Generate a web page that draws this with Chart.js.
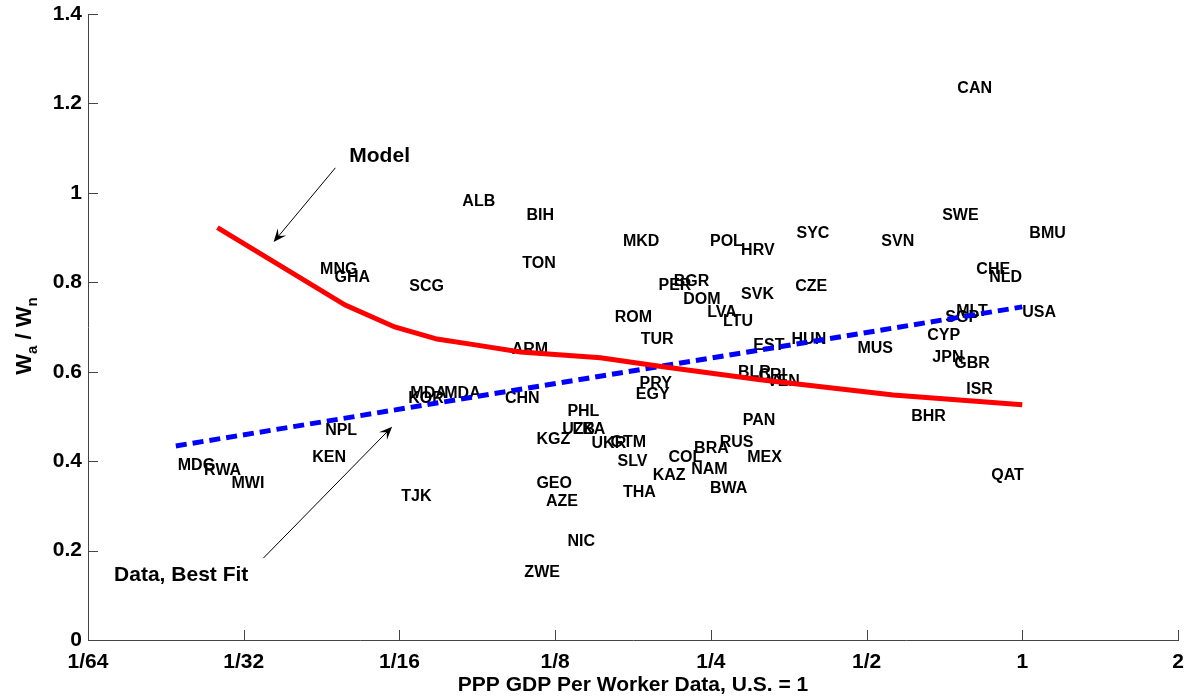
<!DOCTYPE html>
<html>
<head>
<meta charset="utf-8">
<script src="https://cdn.jsdelivr.net/npm/chart.js@4/dist/chart.umd.min.js"></script>
<style>
html, body { margin: 0; padding: 0; background: #fff; }
#wrap { width: 1195px; height: 698px; }
</style>
</head>
<body>
<div id="wrap"><canvas id="chart" width="1195" height="698"></canvas></div>
<script>
const FONT = "'Liberation Sans', Arial, Helvetica, sans-serif";

const xTickValues = [1 / 64, 1 / 32, 1 / 16, 1 / 8, 1 / 4, 1 / 2, 1, 2];
const xTickLabels = ["1/64", "1/32", "1/16", "1/8", "1/4", "1/2", "1", "2"];
const yTickValues = [0, 0.2, 0.4, 0.6, 0.8, 1, 1.2, 1.4];
const yTickLabels = ["0", "0.2", "0.4", "0.6", "0.8", "1", "1.2", "1.4"];

// model curve
const modelX = [0.0278, 0.0491, 0.0612, 0.0739, 0.0876, 0.1071, 0.1529, 0.2021, 0.3116, 0.563, 1.0];
const modelY = [0.922, 0.749, 0.700, 0.673, 0.660, 0.644, 0.631, 0.611, 0.582, 0.548, 0.526];

// best fit through the data
const fitX = [0.0231, 1.0];
const fitY = [0.434, 0.745];

const countryCodes = [
	"CAN", "SWE", "SYC", "SVN", "BMU", "CHE", "NLD", "CZE", "MLT", "SGP", "USA", "CYP", "HUN", "MUS",
	"JPN", "GBR", "ISR", "BHR", "EST", "QAT", "BIH", "MKD", "POL", "HRV", "TON", "BGR", "PER", "DOM",
	"SVK", "LVA", "LTU", "ROM", "TUR", "ARM", "BLR", "CRI", "VEN", "PRY", "EGY", "CHN", "PHL", "PAN",
	"UZB", "LKA", "KGZ", "UKR", "GTM", "SLV", "COL", "BRA", "RUS", "MEX", "KAZ", "NAM", "GEO", "THA",
	"BWA", "AZE", "NIC", "ZWE", "MDG", "RWA", "MWI", "KEN", "NPL", "TJK", "MDA", "MDA", "KOR", "ALB",
	"MNG", "GHA", "SCG",
];
const countryX = [
	0.749, 0.700, 0.366, 0.534, 1.032, 0.815, 0.863, 0.364, 0.745, 0.710, 1.0, 0.655, 0.358, 0.480,
	0.670, 0.739, 0.779, 0.610, 0.302, 0.871, 0.110, 0.169, 0.249, 0.286, 0.108, 0.212, 0.198, 0.221,
	0.286, 0.246, 0.264, 0.163, 0.183, 0.103, 0.282, 0.309, 0.321, 0.182, 0.179, 0.100, 0.132, 0.288,
	0.129, 0.135, 0.115, 0.147, 0.160, 0.165, 0.207, 0.232, 0.260, 0.294, 0.193, 0.229, 0.115, 0.169,
	0.249, 0.120, 0.132, 0.109, 0.0233, 0.0262, 0.0296, 0.0424, 0.0449, 0.0630, 0.0656, 0.0763, 0.0650, 0.0827,
	0.0439, 0.0468, 0.0653,
];
const countryY = [
	1.233, 0.950, 0.908, 0.890, 0.908, 0.829, 0.811, 0.790, 0.734, 0.720, 0.732, 0.680, 0.671, 0.651,
	0.631, 0.619, 0.559, 0.499, 0.659, 0.367, 0.950, 0.890, 0.890, 0.870, 0.841, 0.801, 0.792, 0.761,
	0.772, 0.732, 0.712, 0.720, 0.671, 0.650, 0.597, 0.591, 0.579, 0.573, 0.549, 0.539, 0.510, 0.490,
	0.470, 0.470, 0.449, 0.439, 0.441, 0.400, 0.407, 0.427, 0.441, 0.407, 0.368, 0.380, 0.349, 0.329,
	0.338, 0.309, 0.219, 0.150, 0.389, 0.378, 0.349, 0.407, 0.468, 0.320, 0.550, 0.550, 0.541, 0.981,
	0.829, 0.810, 0.790,
];

const noteTexts = ["Model", "Data, Best Fit"];
const noteX = [0.050, 0.01755];
const noteY = [1.083, 0.145];
const arrowFromX = [0.0470, 0.0341];
const arrowFromY = [1.056, 0.183];
const arrowToX = [0.0357, 0.0605];
const arrowToY = [0.890, 0.477];

const countryLabels = {
	id: "countryLabels",
	beforeDatasetsDraw(chart) {
		const { ctx, scales } = chart;
		ctx.save();
		ctx.font = "bold 16px " + FONT;
		ctx.fillStyle = "#000";
		ctx.textAlign = "left";
		ctx.textBaseline = "middle";
		countryCodes.forEach((code, i) => {
			ctx.fillText(code, scales.x.getPixelForValue(countryX[i]), scales.y.getPixelForValue(countryY[i]));
		});
		ctx.restore();
	},
};

function drawArrow(ctx, x0, y0, x1, y1) {
	const ang = Math.atan2(y1 - y0, x1 - x0);
	const len = 13;
	const half = 5.5;
	ctx.beginPath();
	ctx.moveTo(x0, y0);
	ctx.lineTo(x1 - Math.cos(ang) * 6, y1 - Math.sin(ang) * 6);
	ctx.stroke();
	const bx = x1 - Math.cos(ang) * len;
	const by = y1 - Math.sin(ang) * len;
	const nx = -Math.sin(ang);
	const ny = Math.cos(ang);
	ctx.beginPath();
	ctx.moveTo(x1, y1);
	ctx.lineTo(bx + nx * half, by + ny * half);
	ctx.lineTo(x1 - Math.cos(ang) * len * 0.6, y1 - Math.sin(ang) * len * 0.6);
	ctx.lineTo(bx - nx * half, by - ny * half);
	ctx.closePath();
	ctx.fill();
}

const extras = {
	id: "extras",
	afterDraw(chart) {
		const { ctx, scales, chartArea } = chart;
		const xs = scales.x;
		const ys = scales.y;
		ctx.save();
		// inward tick marks
		ctx.strokeStyle = "#444";
		ctx.lineWidth = 1;
		ctx.beginPath();
		yTickValues.forEach((v) => {
			const py = Math.round(ys.getPixelForValue(v)) + 0.5;
			ctx.moveTo(chartArea.left, py);
			ctx.lineTo(chartArea.left + 10, py);
		});
		xTickValues.forEach((v) => {
			const px = Math.round(xs.getPixelForValue(v)) + 0.5;
			ctx.moveTo(px, chartArea.bottom);
			ctx.lineTo(px, chartArea.bottom - 10);
		});
		ctx.stroke();

		// annotations
		ctx.fillStyle = "#000";
		ctx.strokeStyle = "#000";
		ctx.font = "bold 21px " + FONT;
		ctx.textAlign = "left";
		ctx.textBaseline = "middle";
		noteTexts.forEach((t, i) => {
			ctx.fillText(t, xs.getPixelForValue(noteX[i]), ys.getPixelForValue(noteY[i]));
			drawArrow(
				ctx,
				xs.getPixelForValue(arrowFromX[i]),
				ys.getPixelForValue(arrowFromY[i]),
				xs.getPixelForValue(arrowToX[i]),
				ys.getPixelForValue(arrowToY[i])
			);
		});

		// y axis title with subscripts
		const parts = [
			["W", 22, 0],
			["a", 15, 6],
			[" / ", 22, 0],
			["W", 22, 0],
			["n", 15, 6],
		];
		let total = 0;
		parts.forEach((p) => {
			ctx.font = "bold " + p[1] + "px " + FONT;
			p.push(ctx.measureText(p[0]).width);
			total += p[3];
		});
		ctx.translate(31, (chartArea.top + chartArea.bottom) / 2 + 9);
		ctx.rotate(-Math.PI / 2);
		ctx.textBaseline = "alphabetic";
		let cx = -total / 2;
		parts.forEach((p) => {
			ctx.font = "bold " + p[1] + "px " + FONT;
			ctx.fillText(p[0], cx, p[2]);
			cx += p[3];
		});
		ctx.restore();
	},
};

new Chart(document.getElementById("chart"), {
	type: "line",
	data: {
		datasets: [
			{
				label: "Model",
				data: modelX.map((x, i) => ({ x, y: modelY[i] })),
				borderColor: "#ff0000",
				borderWidth: 5,
				pointRadius: 0,
				tension: 0,
				fill: false,
			},
			{
				label: "Data, Best Fit",
				data: fitX.map((x, i) => ({ x, y: fitY[i] })),
				borderColor: "#0000ff",
				borderWidth: 5,
				borderDash: [11, 6],
				borderCapStyle: "butt",
				pointRadius: 0,
				tension: 0,
				fill: false,
			},
		],
	},
	options: {
		responsive: false,
		animation: false,
		devicePixelRatio: 1,
		layout: { padding: { top: 14, right: 17, left: 0, bottom: 0 } },
		plugins: { legend: { display: false }, tooltip: { enabled: false } },
		scales: {
			x: {
				type: "logarithmic",
				min: 1 / 64,
				max: 2,
				afterBuildTicks: (scale) => {
					scale.ticks = xTickValues.map((value) => ({ value }));
				},
				afterFit: (scale) => {
					scale.height = 58;
				},
				ticks: {
					autoSkip: false,
					maxRotation: 0,
					padding: 10,
					color: "#000",
					font: { family: FONT, size: 21, weight: "bold" },
					callback: (value, index) => xTickLabels[index],
				},
				grid: { display: false, drawTicks: false },
				border: { display: true, color: "#444", width: 1 },
				title: {
					display: true,
					text: "PPP GDP Per Worker Data, U.S. = 1",
					color: "#000",
					font: { family: FONT, size: 21, weight: "bold" },
					padding: { top: 0, bottom: 0 },
				},
			},
			y: {
				type: "linear",
				min: 0,
				max: 1.4,
				afterBuildTicks: (scale) => {
					scale.ticks = yTickValues.map((value) => ({ value }));
				},
				afterFit: (scale) => {
					scale.width = 88;
				},
				ticks: {
					autoSkip: false,
					padding: 6,
					color: "#000",
					font: { family: FONT, size: 21, weight: "bold", lineHeight: 0.7 },
					callback: (value, index) => yTickLabels[index],
				},
				grid: { display: false, drawTicks: false },
				border: { display: true, color: "#444", width: 1 },
			},
		},
	},
	plugins: [countryLabels, extras],
});
</script>
</body>
</html>
